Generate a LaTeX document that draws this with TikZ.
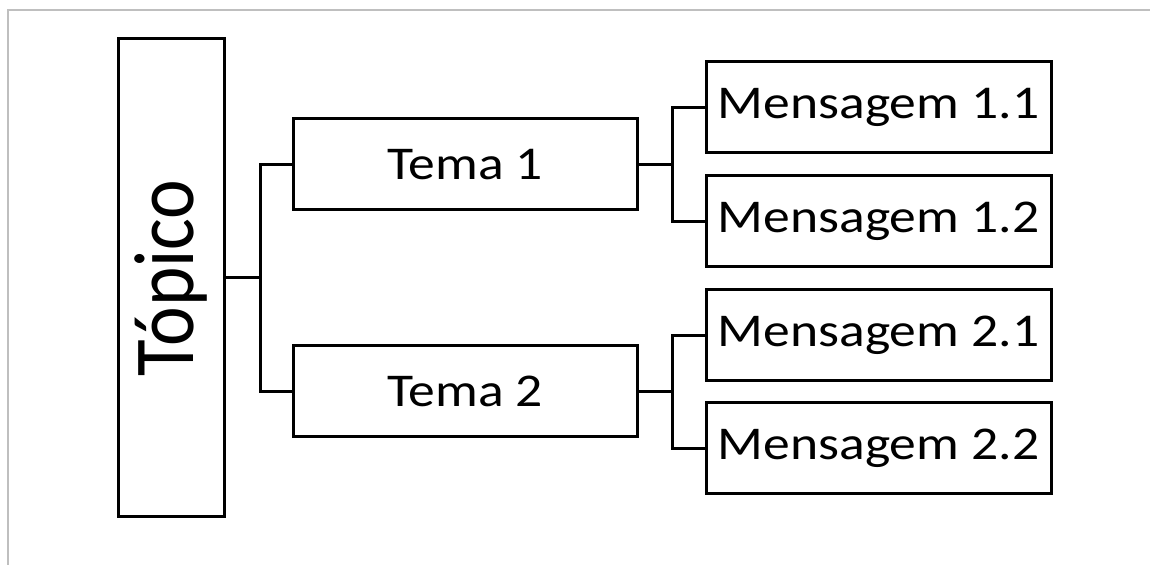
\documentclass[tikz,border=0pt]{standalone}
\usepackage{graphicx}
\usepackage{fontspec}
\setmainfont{Carlito}
\usetikzlibrary{positioning}
\newcommand{\largo}[1]{\scalebox{1.14}[1]{#1}}
\tikzset{
  caixa/.style={draw, line width=1.5pt, inner sep=0pt, font=\fontsize{23.5}{28}\selectfont},
  tema/.style={caixa, minimum width=172pt, minimum height=45.5pt},
  msg/.style={caixa, minimum width=172.5pt, minimum height=45.5pt},
  ramo/.style={line width=1.5pt},
}
\begin{document}
\begin{tikzpicture}[x=0.5pt, y=-0.5pt]
\useasboundingbox (0,0) rectangle (1150,565);
\draw[line width=1pt, black!25](1150,10) -- (8,10) -- (8,565);
%
\node[caixa, minimum width=53pt, minimum height=239pt, font=\fontsize{37.5}{40}\selectfont](topico) at (171,278) {\largo{\rotatebox{90}{Tópico}}};
\node[tema](t1) at (465,164.5) {\largo{Tema 1}};
\node[tema](t2) at (465,391.5) {\largo{Tema 2}};
%
\node[msg](m11) at (878.5,107.5) {\largo{Mensagem 1.1}};
\node[msg](m12) at (878.5,221.5) {\largo{Mensagem 1.2}};
\node[msg](m21) at (878.5,335.5) {\largo{Mensagem 2.1}};
\node[msg](m22) at (878.5,448.5) {\largo{Mensagem 2.2}};
%
\coordinate (r0) at ([xshift=17.5pt]topico.east);
\coordinate (r1) at ([xshift=17pt]t1.east);
\coordinate (r2) at ([xshift=17pt]t2.east);
\draw[ramo](topico.east) -- (r0) |- (t1.west);
\draw[ramo](r0) |- (t2.west);
\draw[ramo](t1.east) -- (r1) |- (m11.west);
\draw[ramo](r1) |- (m12.west);
\draw[ramo](t2.east) -- (r2) |- (m21.west);
\draw[ramo](r2) |- (m22.west);
\end{tikzpicture}
\end{document}
